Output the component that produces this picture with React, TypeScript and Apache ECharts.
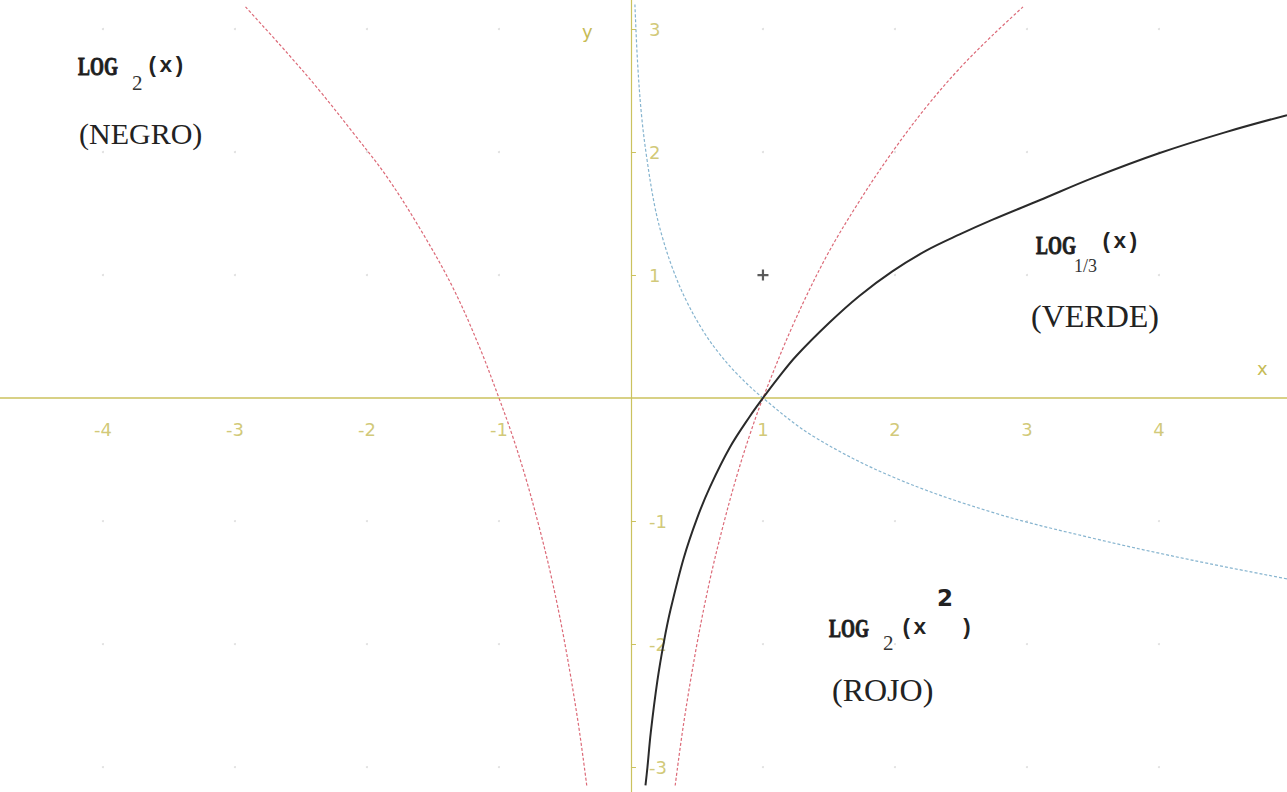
import React, { useEffect, useRef } from "react";
import * as echarts from "echarts";

// Axis tick values (zero is left unlabelled on both axes)
const xTicks = [-4, -3, -2, -1, 1, 2, 3, 4];
const yTicks = [-3, -2, -1, 1, 2, 3];

// Visible window of the plane
const xRange = [-4.78, 4.97];
const yRange = [-3.203, 3.236];

// log2(x) — black curve
const log2Points: [number, number][] = [
  [0.11, -3.15], [0.125, -3.0], [0.15, -2.72], [0.2, -2.3], [0.25, -1.98],
  [0.3, -1.72], [0.4, -1.3], [0.5, -0.98], [0.6, -0.72], [0.75, -0.4],
  [0.9, -0.15], [1, 0], [1.12, 0.17], [1.25, 0.34], [1.5, 0.61],
  [1.73, 0.83], [1.98, 1.03], [2.24, 1.2], [2.49, 1.33], [2.74, 1.45],
  [3.1, 1.61], [3.5, 1.79], [4.0, 1.99], [4.5, 2.16], [4.97, 2.3],
];

// log_{1/3}(x) — light blue curve
const logThirdPoints: [number, number][] = [
  [0.03, 3.2], [0.05, 2.73], [0.08, 2.3], [0.12, 1.95], [0.18, 1.56],
  [0.24, 1.3], [0.32, 1.04], [0.42, 0.79], [0.55, 0.54], [0.67, 0.36],
  [0.8, 0.2], [1, 0], [1.38, -0.31], [1.98, -0.64], [2.74, -0.93],
  [3.5, -1.14], [4.26, -1.32], [4.97, -1.47],
];

// log2(x^2) — red curve, branch for x < 0
const logSquareLeft: [number, number][] = [
  [-2.92, 3.18], [-2.6, 2.8], [-2.36, 2.5], [-2.1, 2.15], [-1.85, 1.8],
  [-1.6, 1.38], [-1.35, 0.9], [-1.15, 0.42], [-1.0, 0], [-0.9, -0.3],
  [-0.8, -0.64], [-0.7, -1.03], [-0.6, -1.47], [-0.5, -2.0], [-0.4, -2.64],
  [-0.335, -3.15],
];

// log2(x^2) — red curve, branch for x > 0
const logSquareRight: [number, number][] = [
  [0.335, -3.15], [0.4, -2.64], [0.5, -2.0], [0.6, -1.47], [0.7, -1.03],
  [0.8, -0.64], [0.9, -0.3], [1, 0], [1.23, 0.6], [1.48, 1.15],
  [1.73, 1.6], [1.98, 2.0], [2.24, 2.37], [2.49, 2.68], [2.74, 2.95],
  [2.97, 3.18],
];

// Marked point
const markedPoints: [number, number][] = [[1, 1]];

const axisColor = "#cbc25e";
const labelColor = "#c6bb55";
const plusPath = "path://M4,0 L6,0 L6,4 L10,4 L10,6 L6,6 L6,10 L4,10 L4,6 L0,6 L0,4 L4,4 Z";

export default function App() {
  const ref = useRef<HTMLDivElement>(null);

  useEffect(() => {
    if (!ref.current) return;
    const chart = echarts.init(ref.current, undefined, { renderer: "svg" });

    // faint lattice dots at integer positions
    const lattice: [number, number][] = [];
    xTicks.forEach((x) => yTicks.forEach((y) => lattice.push([x, y])));

    const curve = (name: string, data: [number, number][], color: string, width: number, type: any) => ({
      name,
      type: "line",
      data,
      smooth: 0.35,
      showSymbol: false,
      symbol: "none",
      lineStyle: { color, width, type },
      z: 3,
    });

    const tickLabelStyle = {
      show: true,
      color: labelColor,
      fontFamily: "DejaVu Sans",
      fontSize: 18,
    };

    const boldLog = (x: number, y: number) => ({
      type: "text",
      x,
      y,
      scaleX: 0.69,
      style: {
        text: "LOG",
        fill: "#1e1e1e",
        stroke: "#1e1e1e",
        lineWidth: 0.9,
        fontSize: 26,
        fontWeight: "bold",
        fontFamily: "Liberation Serif",
        verticalAlign: "middle",
      },
    });

    chart.setOption({
      animation: false,
      backgroundColor: "#ffffff",
      grid: { left: 0, right: 0, top: 0, bottom: 0, containLabel: false, outerBoundsMode: "none" },
      xAxis: {
        type: "value",
        min: xRange[0],
        max: xRange[1],
        axisLine: { show: true, onZero: true, lineStyle: { color: axisColor, width: 1.6 } },
        axisTick: { show: false },
        axisLabel: { show: false },
        splitLine: { show: false },
      },
      yAxis: {
        type: "value",
        min: yRange[0],
        max: yRange[1],
        axisLine: { show: true, onZero: true, lineStyle: { color: axisColor, width: 1.2 } },
        axisTick: { show: true, customValues: yTicks, inside: true, length: 5, lineStyle: { color: axisColor } },
        axisLabel: { show: false },
        splitLine: { show: false },
      },
      series: [
        {
          type: "scatter",
          data: lattice,
          symbolSize: 2,
          itemStyle: { color: "#d6d6d6" },
          z: 1,
        },
        // x tick labels, placed under the horizontal axis
        {
          type: "scatter",
          data: xTicks.map((x) => [x, 0]),
          symbolSize: 2,
          itemStyle: { color: "rgba(255,255,255,0)" },
          label: { ...tickLabelStyle, position: "bottom", distance: 21, formatter: (p: any) => String(p.value[0]) },
          silent: true,
          z: 2,
        },
        // y tick labels, to the right of the vertical axis
        {
          type: "scatter",
          data: yTicks.map((y) => [0, y]),
          symbolSize: 2,
          itemStyle: { color: "rgba(255,255,255,0)" },
          label: { ...tickLabelStyle, position: "right", distance: 17, formatter: (p: any) => String(p.value[1]) },
          silent: true,
          z: 2,
        },
        curve("log2(x^2) x<0", logSquareLeft, "#dc6a78", 1.2, [3, 2]),
        curve("log2(x^2) x>0", logSquareRight, "#dc6a78", 1.2, [3, 2]),
        curve("log1/3(x)", logThirdPoints, "#86b4cf", 1.2, [3, 2]),
        curve("log2(x)", log2Points, "#2a2a2a", 2, "solid"),
        {
          type: "scatter",
          data: markedPoints,
          symbol: plusPath,
          symbolSize: 11,
          itemStyle: { color: "#333" },
          z: 4,
        },
      ],
      graphic: [
        // axis names
        { type: "text", left: 582, top: 22, style: { text: "y", fill: labelColor, fontSize: 18, fontFamily: "DejaVu Sans" } },
        { type: "text", left: 1257, top: 359, style: { text: "x", fill: labelColor, fontSize: 18, fontFamily: "DejaVu Sans" } },

        // log2(x) label
        boldLog(78, 66),
        { type: "text", x: 132, y: 83, style: { text: "2", fill: "#333", fontSize: 21, fontFamily: "Liberation Serif", verticalAlign: "middle" } },
        { type: "text", x: 146, y: 66, style: { text: "(x)", fill: "#222", fontSize: 22, fontWeight: "bold", fontFamily: "Liberation Mono", verticalAlign: "middle" } },
        { type: "text", x: 79, y: 133, style: { text: "(NEGRO)", fill: "#222", fontSize: 30, fontFamily: "Liberation Serif", verticalAlign: "middle" } },

        // log1/3(x) label
        boldLog(1036, 245),
        { type: "text", x: 1074, y: 266, style: { text: "1/3", fill: "#333", fontSize: 18, fontFamily: "Liberation Serif", verticalAlign: "middle" } },
        { type: "text", x: 1100, y: 242, style: { text: "(x)", fill: "#222", fontSize: 22, fontWeight: "bold", fontFamily: "Liberation Mono", verticalAlign: "middle" } },
        { type: "text", x: 1031, y: 316, style: { text: "(VERDE)", fill: "#222", fontSize: 32, fontFamily: "Liberation Serif", verticalAlign: "middle" } },

        // log2(x^2) label
        boldLog(829, 628),
        { type: "text", x: 883, y: 643, style: { text: "2", fill: "#333", fontSize: 21, fontFamily: "Liberation Serif", verticalAlign: "middle" } },
        { type: "text", x: 900, y: 628, style: { text: "(x", fill: "#222", fontSize: 22, fontWeight: "bold", fontFamily: "Liberation Mono", verticalAlign: "middle" } },
        { type: "text", x: 937, y: 598, style: { text: "2", fill: "#222", fontSize: 23, fontWeight: "bold", fontFamily: "DejaVu Sans", verticalAlign: "middle" } },
        { type: "text", x: 960, y: 628, style: { text: ")", fill: "#222", fontSize: 22, fontWeight: "bold", fontFamily: "Liberation Mono", verticalAlign: "middle" } },
        { type: "text", x: 832, y: 690, style: { text: "(ROJO)", fill: "#222", fontSize: 32, fontFamily: "Liberation Serif", verticalAlign: "middle" } },
      ],
    });

    return () => chart.dispose();
  }, []);

  return (
    <div
      ref={ref}
      style={{ position: "absolute", left: 0, top: 0, width: 1287, height: 792, background: "#fff" }}
    />
  );
}
